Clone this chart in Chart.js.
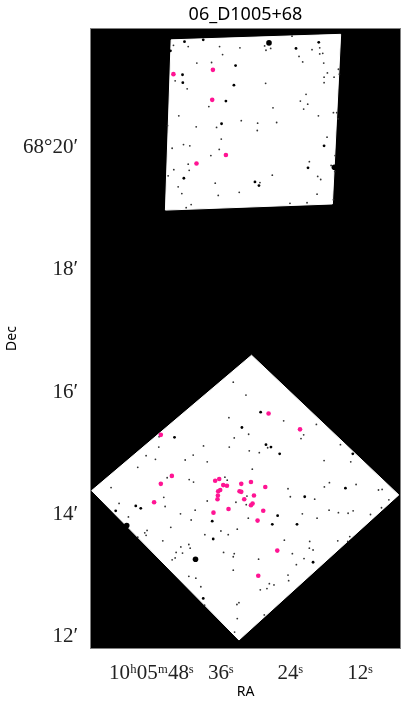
<!DOCTYPE html>
<html>
<head>
<meta charset="utf-8">
<title>06_D1005+68</title>
<script src="https://cdn.jsdelivr.net/npm/chart.js@4"></script>
<style>
  html, body { margin: 0; padding: 0; background: #fff; }
  canvas { display: block; }
</style>
</head>
<body>
<canvas id="chart" width="407" height="708"></canvas>
<script>
// values are [RA seconds past 10h05m, Dec arcmin past 68 deg]
const raTicks = [48, 36, 24, 12];
const raLabels = ["10\u02B005\u1D5048\u02E2", "36\u02E2", "24\u02E2", "12\u02E2"];
const decTicks = [20, 18, 16, 14, 12];
const decLabels = ["68\u00B020\u2032", "18\u2032", "16\u2032", "14\u2032", "12\u2032"];

const fieldNorth = [[44.55,21.75],[15.32,21.84],[16.75,19.07],[45.54,18.97],[44.55,21.75]];
const fieldSouth = [[30.69,16.60],[5.30,14.32],[32.86,11.95],[58.25,14.39],[30.69,16.60]];

const sources = [
  [44.16,21.19],[37.35,21.26],[37.47,20.77],[35.11,19.87],[40.18,19.73],
  [27.75,15.65],[22.33,15.39],[46.33,15.30],[44.43,14.63],[46.33,14.50],
  [36.26,14.58],[36.96,14.55],[35.57,14.48],[34.93,14.47],[32.46,14.50],
  [30.79,14.53],[28.32,14.45],[36.09,14.40],[36.44,14.38],[32.76,14.38],
  [32.46,14.37],[36.49,14.31],[30.27,14.31],[36.56,14.25],[31.95,14.25],
  [47.49,14.20],[30.51,14.18],[30.79,14.15],[34.66,14.09],[28.67,14.06],
  [37.25,14.03],[29.65,13.90],[26.25,13.41],[29.53,13.00]
];

const bigStars = [[27.68,21.70],[16.40,19.67],[52.21,13.82],[40.35,13.27]];

const midStars = [
  [42.25,21.72],[39.02,21.75],[44.67,21.57],[23.02,21.61],[19.10,21.71],[42.59,21.18],
  [33.73,21.01],[42.54,21.05],[35.11,20.75],[35.86,20.38],[18.18,20.02],[20.95,19.66],
  [42.36,19.49],[30.10,19.43],[29.41,19.37],[33.44,21.33],
  [29.12,15.67],[13.23,14.99],[25.84,14.99],[43.97,15.26],[32.35,15.42],[28.20,15.14],
  [27.34,15.10],[14.50,14.43],[21.52,14.29],[50.65,14.14],[49.79,14.10],[54.11,14.06],
  [37.47,13.89],[26.19,13.98],[27.11,13.84],[22.85,13.84],[37.30,13.60],[20.08,13.22],
  [39.02,12.63]
];

const smallStars = [
  [44.15,21.66],[41.61,21.64],[36.20,21.64],[32.69,21.62],[35.68,21.51],[23.71,21.81],
  [28.20,21.58],[27.39,21.61],[28.43,21.65],[20.26,21.59],[18.93,21.62],[18.93,21.52],
  [18.41,21.53],[22.50,21.48],[21.87,21.39],[18.24,21.37],[40.12,21.37],[37.58,21.38],
  [15.71,21.27],[17.61,21.21],[18.18,21.14],[16.46,21.14],[15.54,21.19],[43.86,21.08],
  [41.79,20.95],[28.26,21.04],[18.18,21.05],[21.29,20.86],[22.27,20.75],[21.00,20.70],
  [38.05,20.66],[26.99,20.64],[21.70,20.62],[16.57,20.56],[16.00,20.56],[19.16,20.51],
  [43.23,20.51],[15.77,20.46],[32.46,20.43],[29.64,20.39],[26.36,20.40],[45.18,20.35],
  [40.23,20.33],[36.72,20.32],[29.70,20.27],[17.67,20.16],[35.91,20.13],[42.42,20.04],
  [41.33,20.02],[44.38,19.98],[36.26,19.96],[37.70,19.86],[16.28,19.86],[20.72,19.76],
  [41.61,19.72],[44.09,19.63],[41.44,19.62],[16.97,19.70],[16.34,19.60],[45.07,19.53],
  [27.11,19.54],[19.28,19.52],[18.76,19.47],[36.95,19.41],[29.24,19.42],[43.34,19.35],
  [42.71,19.24],[32.81,19.26],[36.43,19.21],[19.39,19.23],[16.57,19.14],[24.06,19.08],
  [21.12,19.09],[41.10,19.06],[41.96,19.01],
  [33.84,16.16],[31.65,15.95],[25.15,15.53],[34.59,15.58],[19.51,15.47],[31.19,15.31],
  [33.67,15.25],[21.70,15.30],[22.16,15.24],[46.62,15.27],[38.97,15.12],[34.53,15.10],
  [46.68,15.10],[31.08,15.04],[29.35,15.01],[27.91,15.09],[15.36,15.14],[40.75,14.97],
  [48.87,14.96],[47.26,14.90],[42.13,14.89],[38.33,14.86],[18.18,14.88],[13.58,14.86],
  [50.31,14.77],[30.56,14.74],[35.28,14.61],[45.24,14.60],[41.44,14.57],[34.88,14.56],
  [40.69,14.53],[54.91,14.44],[17.26,14.52],[12.66,14.49],[18.13,14.45],[24.40,14.42],
  [8.80,14.40],[8.17,14.41],[45.82,14.28],[31.48,14.30],[24.00,14.29],[19.80,14.25],
  [7.01,14.24],[53.53,14.18],[45.59,14.13],[38.33,14.22],[33.38,14.20],[31.60,14.16],
  [42.94,14.01],[40.41,14.07],[51.92,13.96],[41.10,13.91],[31.25,13.94],[21.93,14.01],
  [17.32,14.07],[15.71,14.03],[14.04,14.02],[13.17,14.06],[10.18,14.00],[8.28,14.11],
  [19.39,13.94],[44.61,13.79],[33.15,13.76],[35.97,13.73],[34.71,13.67],[38.74,13.67],
  [48.70,13.74],[49.10,13.70],[48.87,13.66],[50.31,13.63],[25.03,13.58],[45.99,13.57],
  [20.66,13.56],[15.82,13.57],[14.10,13.56],[13.75,13.64],[41.50,13.51],[42.88,13.47],
  [41.27,13.45],[20.72,13.45],[20.08,13.42],[43.69,13.38],[42.59,13.37],[35.51,13.38],
  [33.67,13.36],[33.84,13.31],[23.65,13.36],[43.86,13.29],[44.38,13.26],[29.47,13.27],
  [21.64,13.28],[22.96,13.18],[33.84,13.09],[41.50,12.99],[40.29,12.96],[24.40,13.01],
  [24.29,12.92],[27.62,12.87],[26.82,12.85],[39.43,12.82],[28.03,12.79],[29.18,12.77],
  [38.79,12.52],[32.86,12.56],[33.21,12.53],[33.15,12.30],[28.49,12.36],[33.61,12.08]
];

const toXY = pts => pts.map(p => ({ x: p[0], y: p[1] }));

function fieldDataset(pts) {
  return {
    data: toXY(pts),
    showLine: true,
    fill: "shape",
    backgroundColor: "#ffffff",
    borderColor: "#ffffff",
    borderWidth: 1,
    pointRadius: 0,
    order: 5
  };
}

function starDataset(pts, radius, color, order) {
  return {
    data: toXY(pts),
    showLine: false,
    pointRadius: radius,
    pointBackgroundColor: color,
    pointBorderWidth: 0,
    order: order
  };
}

// black sky and the thin grey frame
const framePlugin = {
  id: "frame",
  beforeDraw(chart) {
    const a = chart.chartArea;
    const ctx = chart.ctx;
    ctx.save();
    ctx.fillStyle = "#000000";
    ctx.fillRect(a.left, a.top, a.width, a.height);
    ctx.restore();
  },
  afterDraw(chart) {
    const a = chart.chartArea;
    const ctx = chart.ctx;
    ctx.save();
    ctx.strokeStyle = "#808080";
    ctx.lineWidth = 1;
    ctx.strokeRect(a.left - 0.5, a.top - 0.5, a.width + 1, a.height + 1);
    ctx.restore();
  }
};

const serif = "'Liberation Serif', serif";
const sans = "'Noto Sans', sans-serif";

new Chart(document.getElementById("chart"), {
  type: "scatter",
  data: {
    datasets: [
      fieldDataset(fieldNorth),
      fieldDataset(fieldSouth),
      starDataset(smallStars, 0.9, "#333333", 4),
      starDataset(midStars, 1.4, "#000000", 3),
      starDataset(bigStars, 2.8, "#000000", 2),
      starDataset(sources, 2.3, "#ff1493", 1)
    ]
  },
  plugins: [framePlugin],
  options: {
    responsive: false,
    animation: false,
    layout: { padding: { right: 7 } },
    plugins: {
      legend: { display: false },
      tooltip: { enabled: false },
      title: {
        display: true,
        text: "06_D1005+68",
        fullSize: false,
        color: "#000000",
        font: { family: sans, size: 18, weight: "normal", lineHeight: 1.2 },
        padding: { top: 4, bottom: 3.4 }
      }
    },
    scales: {
      x: {
        type: "linear",
        min: 5.09,
        max: 58.37,
        reverse: true,
        afterFit(scale) { scale.height = 60; },
        afterBuildTicks(scale) { scale.ticks = raTicks.map(v => ({ value: v })); },
        grid: { display: false },
        border: { display: false },
        ticks: {
          autoSkip: false,
          maxRotation: 0,
          padding: 5,
          color: "#222222",
          font: { family: serif, size: 21 },
          callback: v => raLabels[raTicks.indexOf(v)]
        },
        title: {
          display: true,
          text: "RA",
          color: "#000000",
          font: { family: sans, size: 14, lineHeight: 1.2 },
          padding: { top: 0, bottom: 8 }
        }
      },
      y: {
        type: "linear",
        min: 11.82,
        max: 21.927,
        afterFit(scale) { scale.width = 91; },
        afterBuildTicks(scale) { scale.ticks = decTicks.slice().reverse().map(v => ({ value: v })); },
        grid: { display: false },
        border: { display: false },
        ticks: {
          autoSkip: false,
          padding: 5,
          color: "#222222",
          font: { family: serif, size: 21 },
          callback: v => decLabels[decTicks.indexOf(v)]
        },
        title: {
          display: true,
          text: "Dec",
          color: "#000000",
          font: { family: sans, size: 14, lineHeight: 1.2 },
          padding: { top: 4, bottom: 0 }
        }
      }
    }
  }
});
</script>
</body>
</html>
